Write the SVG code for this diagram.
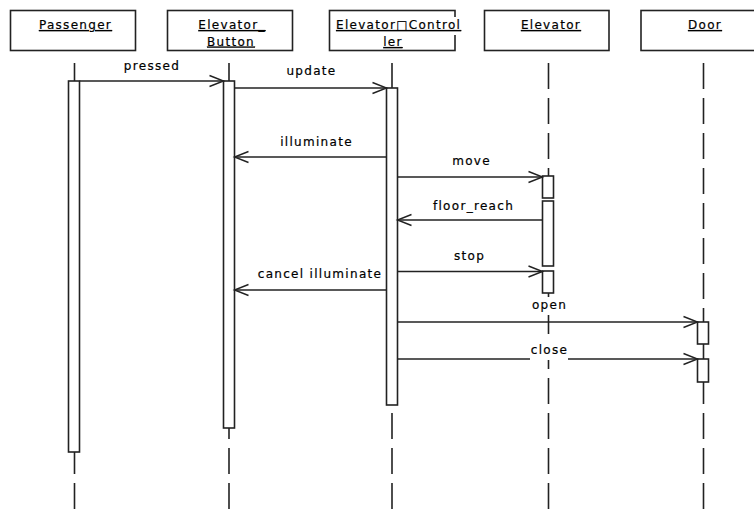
<svg xmlns="http://www.w3.org/2000/svg" width="754" height="518" viewBox="0 0 754 518">
  <style>
    text { font-family: "DejaVu Sans", Verdana, sans-serif; font-size: 12px; letter-spacing: 1.3px; fill: #000; stroke: #000; stroke-width: 0.2; }
    .name { text-anchor: middle; text-decoration: underline; }
    .msg { text-anchor: middle; }
    .box { fill: #fff; stroke: #222; stroke-width: 1.6; }
    .life { stroke: #222; stroke-width: 1.6; stroke-dasharray: 26 9; fill: none; }
    .act { fill: #fff; stroke: #222; stroke-width: 1.6; }
    .arrow { stroke: #222; stroke-width: 1.6; fill: none; marker-end: url(#open); }
    .bg { fill: #fff; }
  </style>
  <defs>
    <marker id="open" markerUnits="userSpaceOnUse" markerWidth="20" markerHeight="16" refX="15" refY="8" orient="auto">
      <path d="M1,2.5 L15,8 L1,13.5" fill="none" stroke="#222" stroke-width="1.4"/>
    </marker>
  </defs>

  <rect width="754" height="518" fill="#fff"/>

  <!-- lifelines -->
  <g id="lifelines">
    <line class="life" x1="74.5" y1="63" x2="74.5" y2="509"/>
    <line class="life" x1="229" y1="63" x2="229" y2="509"/>
    <line class="life" x1="392" y1="63" x2="392" y2="509"/>
    <line class="life" x1="548.5" y1="63" x2="548.5" y2="509"/>
    <line class="life" x1="703.5" y1="63" x2="703.5" y2="509"/>
  </g>

  <!-- participants -->
  <g id="passenger">
    <rect class="box" x="10.5" y="10.5" width="125" height="40"/>
    <text class="name" x="75.5" y="29">Passenger</text>
    <rect class="act" x="68.5" y="81" width="11" height="371"/>
  </g>
  <g id="elevator-button">
    <rect class="box" x="167.5" y="10.5" width="125" height="40"/>
    <text class="name" x="232" y="29">Elevator_</text>
    <text class="name" x="231" y="45.5">Button</text>
    <rect class="act" x="223.5" y="81" width="11" height="347"/>
  </g>
  <g id="elevator-controller">
    <rect class="box" x="329.5" y="10.5" width="125.5" height="40"/>
    <rect class="bg" x="334" y="17" width="126" height="18"/>
    <text x="336" y="29" style="text-decoration: underline;">Elevator□Control</text>
    <text class="name" x="393" y="46">ler</text>
    <rect class="act" x="386.5" y="88" width="11" height="317"/>
  </g>
  <g id="elevator">
    <rect class="box" x="484.5" y="10.5" width="124.5" height="40"/>
    <text class="name" x="551" y="29">Elevator</text>
    <rect class="act" x="542.5" y="176" width="11" height="22"/>
    <rect class="act" x="542.5" y="201" width="11" height="65"/>
    <rect class="act" x="542.5" y="271" width="11" height="22"/>
  </g>
  <g id="door">
    <rect class="box" x="641" y="10.5" width="125" height="40"/>
    <text class="name" x="705" y="29">Door</text>
    <rect class="act" x="697.5" y="322" width="11" height="22"/>
    <rect class="act" x="697.5" y="359" width="11" height="23"/>
  </g>

  <!-- messages -->
  <g id="messages">
    <line class="arrow" x1="79.5" y1="81" x2="223.5" y2="81"/>
    <line class="arrow" x1="234.5" y1="88" x2="386.5" y2="88"/>
    <line class="arrow" x1="386.5" y1="157" x2="234.5" y2="157"/>
    <line class="arrow" x1="397.5" y1="177" x2="542.5" y2="177"/>
    <line class="arrow" x1="542.5" y1="220" x2="397.5" y2="220"/>
    <line class="arrow" x1="397.5" y1="271.5" x2="542.5" y2="271.5"/>
    <line class="arrow" x1="386.5" y1="290" x2="234.5" y2="290"/>
    <line class="arrow" x1="397.5" y1="322" x2="697.5" y2="322"/>
    <line class="arrow" x1="397.5" y1="359" x2="697.5" y2="359"/>
  </g>

  <!-- message labels -->
  <g id="labels">
    <text class="msg" x="152" y="70">pressed</text>
    <text class="msg" x="311.5" y="75">update</text>
    <text class="msg" x="316.5" y="146">illuminate</text>
    <text class="msg" x="471.5" y="165">move</text>
    <text class="msg" x="473.5" y="210">floor_reach</text>
    <text class="msg" x="469.5" y="260">stop</text>
    <text class="msg" x="320" y="278">cancel illuminate</text>
    <rect class="bg" x="530" y="297" width="38" height="18"/>
    <text class="msg" x="549.5" y="309">open</text>
    <rect class="bg" x="530" y="342" width="38" height="18"/>
    <text class="msg" x="549.5" y="354">close</text>
  </g>
</svg>
